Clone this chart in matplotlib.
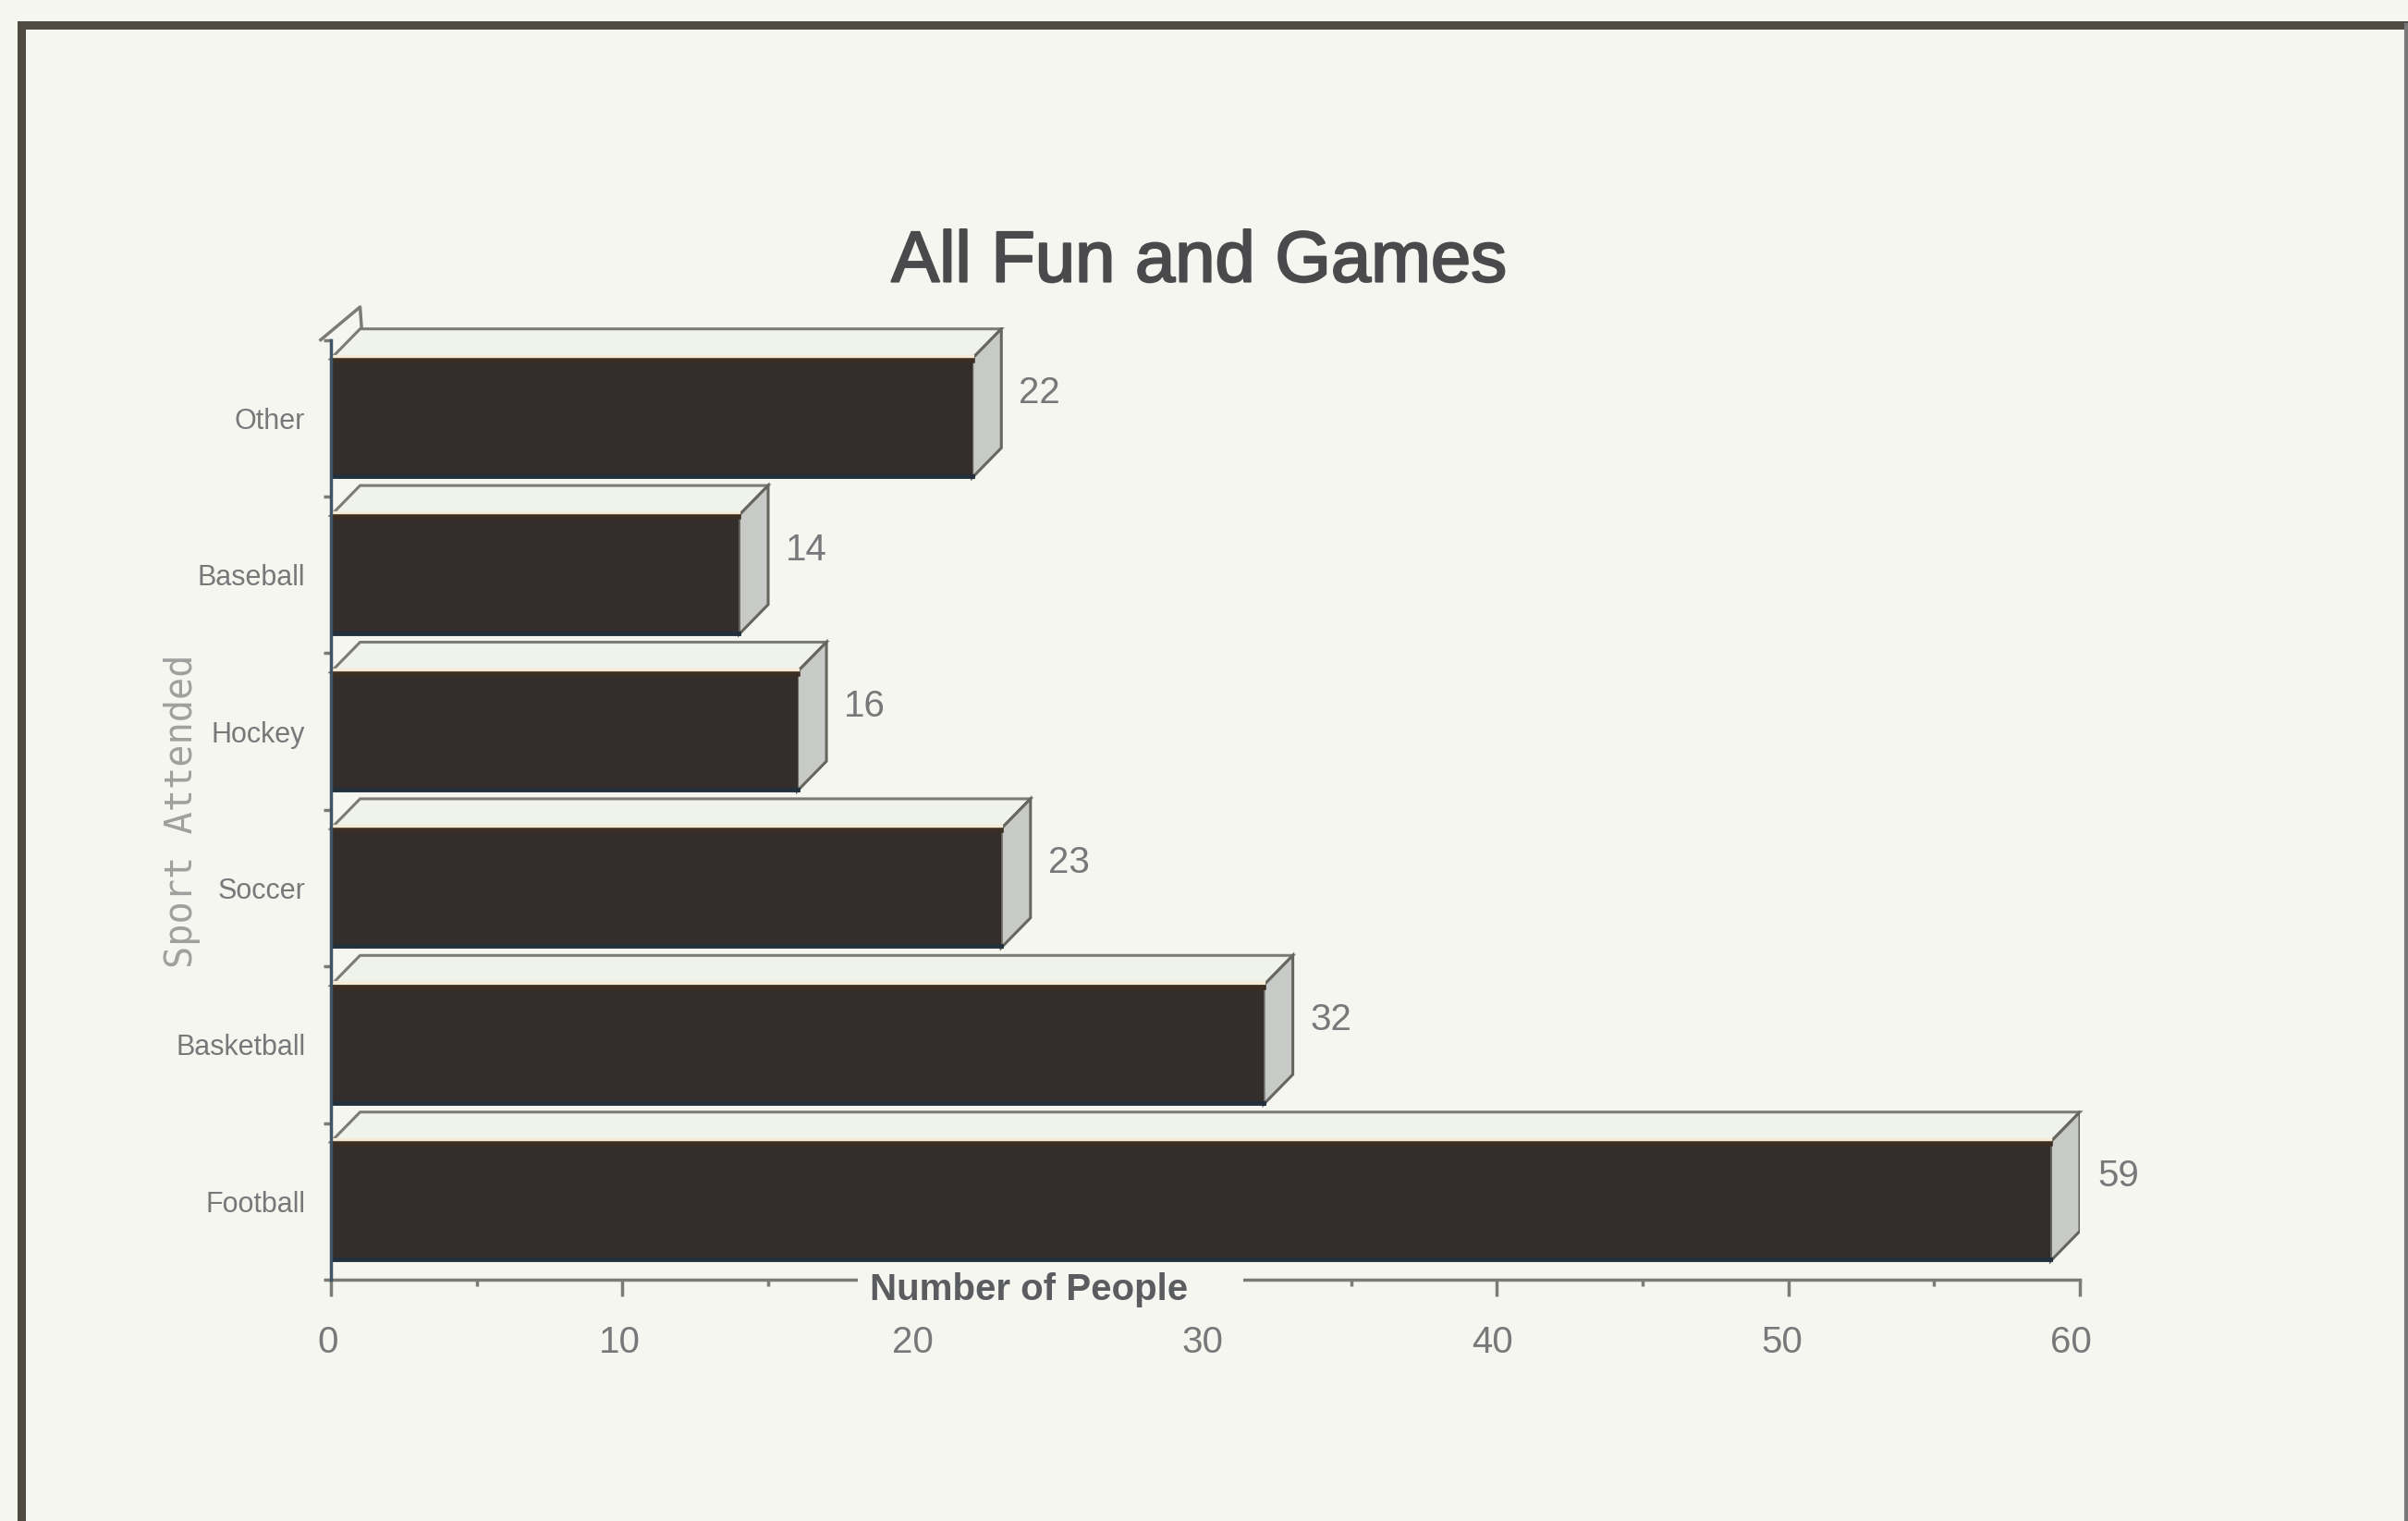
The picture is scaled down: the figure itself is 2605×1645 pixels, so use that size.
# _*_ coding:utf-8 _*_
from matplotlib import pyplot as plt
from matplotlib import patheffects
from matplotlib.patches import Polygon, Rectangle
from matplotlib.transforms import ScaledTranslation

categories = ['Football', 'Basketball', 'Soccer', 'Hockey', 'Baseball', 'Other']
people = [59, 32, 23, 16, 14, 22]
x_ticks = [0, 10, 20, 30, 40, 50, 60]
minor_ticks = [5, 15, 25, 35, 45, 55]
y_boundaries = [-0.5, 0.5, 1.5, 2.5, 3.5, 4.5, 5.5]

W, H = 2605, 1645
paper = '#f5f6f0'
ink = '#332e2c'
grey = '#77787a'
line = '#7c7c74'

plt.rcParams['font.family'] = ['Liberation Sans', 'DejaVu Sans']

fig = plt.figure(figsize=(W / 100, H / 100), dpi=100, facecolor=paper)

# frame of the page, in pixels
bg = fig.add_axes([0, 0, 1, 1], zorder=0)
bg.set_xlim(0, W)
bg.set_ylim(H, 0)
bg.axis('off')
bg.plot([23, 23, W], [H, 27, 27], color='#4f4a42', lw=6.5, solid_joinstyle='miter')
bg.plot([2603, 2603], [27, H], color='#77777a', lw=3)

left, right, top, bottom = 358, 2250, 354, 1384
ax = fig.add_axes([left / W, 1 - bottom / H, (right - left) / W, (bottom - top) / H], zorder=1)
ax.patch.set_alpha(0)
ax.set_xlim(0, 60)
ax.set_ylim(-0.5, 5.58)

bar_h = 0.76
dx = 1.0
dy = 0.19

for i, v in enumerate(people):
    y0 = i - bar_h / 2
    y1 = i + bar_h / 2
    # top face
    ax.add_patch(Polygon([(0, y1), (dx, y1 + dy), (v + dx, y1 + dy), (v, y1)],
                         facecolor='#f0f2ec', edgecolor=line, lw=2.2, zorder=2, clip_on=False))
    # side face
    ax.add_patch(Polygon([(v, y0), (v + dx, y0 + dy), (v + dx, y1 + dy), (v, y1)],
                         facecolor='#c8cac7', edgecolor='#66665f', lw=2.2, zorder=2))
    ax.add_patch(Rectangle((0, y0), v, bar_h, facecolor=ink, edgecolor='none', zorder=3))
    # tints along the bar edges from the printing
    ax.plot([0, v], [y1 + 0.012, y1 + 0.012], color='#f6ecd6', lw=3, zorder=3)
    ax.plot([0, v], [y1 - 0.012, y1 - 0.012], color='#3c2e22', lw=4, zorder=3)
    ax.plot([0, v], [y0 + 0.008, y0 + 0.008], color='#22303c', lw=3.5, zorder=3)
    ax.text(v + dx + 0.6, i + 0.16, str(v), fontsize=29, color=grey, va='center', ha='left')

# stub of the back wall above the top bar
ax.plot([-0.35, 1.0, 1.05], [5.5, 5.71, 5.58], color=line, lw=2.5, clip_on=False, zorder=2)

for s in ['top', 'right']:
    ax.spines[s].set_visible(False)
ax.spines['bottom'].set_color(line)
ax.spines['bottom'].set_linewidth(2.5)
ax.spines['left'].set_color('#3f5465')
ax.spines['left'].set_linewidth(2.5)
ax.spines['left'].set_bounds(-0.5, 5.5)
ax.spines['left'].set_zorder(4)

ax.set_xticks(x_ticks)
ax.set_xticks(minor_ticks, minor=True)
ax.set_yticks(range(len(categories)))
ax.set_yticks(y_boundaries, minor=True)
ax.set_yticklabels(categories)
ax.tick_params(axis='x', which='major', length=13, width=2.5, color=line, labelsize=29,
               labelcolor=grey, pad=22)
ax.tick_params(axis='x', which='minor', length=5, width=2.5, color=line)
ax.tick_params(axis='y', which='major', length=0, labelsize=22, labelcolor=grey, pad=20)
ax.tick_params(axis='y', which='minor', length=6, width=2.5, color=line)

# the printed tick labels drift left of their ticks
for lab, nudge in zip(ax.get_xticklabels(), [-2, -2, -1, -2, -3, -4, -6]):
    lab.set_transform(lab.get_transform() + ScaledTranslation(nudge * 1.66 / 100, 0, fig.dpi_scale_trans))

# axis title sits on the line, with a gap cut out of it
fig.add_artist(Rectangle((928 / W, 1 - 1412 / H), 417 / W, 36 / H, transform=fig.transFigure,
                         facecolor=paper, edgecolor='none', zorder=4))
fig.text(1113 / W, 1 - 1395 / H, 'Number of People', fontsize=29, fontweight='bold', color='#5a5c60',
         ha='center', va='center', zorder=5)
fig.text(197 / W, 1 - 877 / H, 'Sport Attended', fontsize=29, color='#a0a19f', rotation=90,
         ha='center', va='center', family=['DejaVu Sans Mono'], zorder=5)
title = fig.text(1297 / W, 1 - 284 / H, 'All Fun and Games', fontsize=56, color='#4a4a4c',
                 ha='center', va='center', zorder=5)
title.set_path_effects([patheffects.withStroke(linewidth=1.6, foreground='#4a4a4c')])

fig.savefig('out.png', dpi=100, facecolor=paper)
